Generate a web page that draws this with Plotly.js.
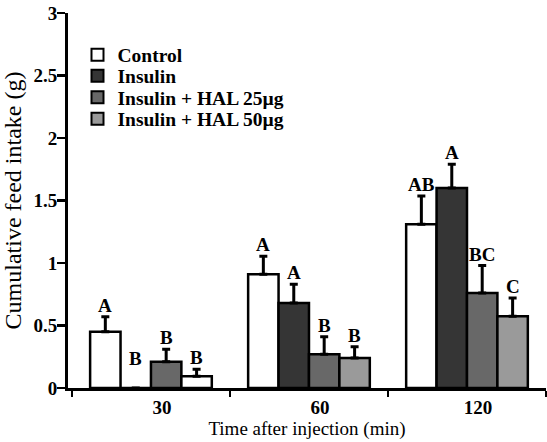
<!DOCTYPE html>
<html>
<head>
<meta charset="utf-8">
<script src="https://cdn.plot.ly/plotly-3.0.1.min.js"></script>
<style>html,body{margin:0;padding:0;background:#fff;}#chart{width:547px;height:442px;}</style>
</head>
<body>
<div id="chart"></div>
<script>
const categories = ['30', '60', '120'];
const seriesNames = ['Control', 'Insulin', 'Insulin + HAL 25µg', 'Insulin + HAL 50µg'];
const controlValues = [0.45, 0.91, 1.31];
const insulinValues = [0.0, 0.68, 1.60];
const hal25Values = [0.21, 0.27, 0.76];
const hal50Values = [0.095, 0.24, 0.575];
const controlErr = [0.12, 0.145, 0.225];
const insulinErr = [0.0, 0.15, 0.19];
const hal25Err = [0.10, 0.14, 0.22];
const hal50Err = [0.055, 0.09, 0.145];
const controlLetters = ['A', 'A', 'AB'];
const insulinLetters = ['B', 'A', 'A'];
const hal25Letters = ['B', 'B', 'BC'];
const hal50Letters = ['B', 'B', 'C'];

const values = [controlValues, insulinValues, hal25Values, hal50Values];
const errs = [controlErr, insulinErr, hal25Err, hal50Err];
const letters = [controlLetters, insulinLetters, hal25Letters, hal50Letters];
const colors = ['#ffffff', '#353535', '#686868', '#9a9a9a'];
// the reference draws the 30-min HAL 50µg bar unfilled
const pointColors = [
  ['#ffffff', '#ffffff', '#ffffff'],
  ['#353535', '#353535', '#353535'],
  ['#686868', '#686868', '#686868'],
  ['#ffffff', '#9a9a9a', '#9a9a9a']
];

const serif = 'Liberation Serif, Times New Roman, serif';
const legendIds = ['legend', 'legend2', 'legend3', 'legend4'];
const traces = seriesNames.map((name, i) => ({
  type: 'bar',
  name: name,
  x: categories,
  y: values[i],
  offsetgroup: 'g' + i,
  marker: { color: pointColors[i], line: { color: '#000', width: 2.5 } },
  error_y: {
    type: 'data', symmetric: false, array: errs[i],
    arrayminus: errs[i].map(() => 0),
    color: '#000', thickness: 3, width: 4,
    visible: true
  },
  showlegend: false
}));
// legend entries with the series' own colours (share the bar's offset group)
seriesNames.forEach((name, i) => {
  traces.push({
    type: 'bar', name: name, x: [categories[0]], y: [null],
    offsetgroup: 'g' + i, legend: legendIds[i],
    marker: { color: colors[i], line: { color: '#000', width: 2 } },
    showlegend: true, hoverinfo: 'skip'
  });
});

const plotLeft = 68, plotWidth = 478, plotTop = 13, plotHeight = 375;
const xRange = [-0.525, 2.5];
const bargap = 0.23;
const catPx = plotWidth / (xRange[1] - xRange[0]);
const barPx = catPx * (1 - bargap) / 4;

const annotations = [];
letters.forEach((arr, i) => {
  arr.forEach((t, j) => {
    const top = values[i][j] + errs[i][j];
    annotations.push({
      x: j, y: top, xref: 'x', yref: 'y',
      xshift: (i - 1.5) * barPx,
      yshift: top < 0.05 ? 17 : -1,
      yanchor: 'bottom', showarrow: false, text: t,
      font: { family: serif, size: 19, color: '#000', weight: 'bold' }
    });
  });
});

const legendRowPx = [55, 76, 97.5, 119];
const legendFont = { family: serif, size: 19.5, color: '#000', weight: 'bold' };

const layout = {
  width: 547, height: 442,
  margin: { l: plotLeft, r: 547 - plotLeft - plotWidth, t: plotTop, b: 442 - plotTop - plotHeight },
  paper_bgcolor: '#fff', plot_bgcolor: '#fff',
  barmode: 'group', bargap: bargap, bargroupgap: 0,
  font: { family: serif, color: '#000' },
  showlegend: true,
  xaxis: {
    type: 'category', categoryorder: 'array', categoryarray: categories,
    range: xRange, showline: true, linecolor: '#000', linewidth: 3,
    ticks: 'outside', tickson: 'boundaries', ticklen: 6, tickwidth: 2.5, tickcolor: '#000',
    showgrid: false, zeroline: false, ticklabelshift: 11,
    tickfont: { family: serif, size: 19, color: '#000', weight: 'bold' },
    title: { text: 'Time after injection (min)', standoff: 4,
      font: { family: serif, size: 19, color: '#000' } }
  },
  yaxis: {
    range: [0, 3], dtick: 0.5, tick0: 0, showline: true, linecolor: '#000', linewidth: 3,
    ticks: 'outside', ticklen: 8, tickwidth: 2.5, tickcolor: '#000',
    showgrid: false, zeroline: false, ticklabelstandoff: -4,
    tickfont: { family: serif, size: 19, color: '#000', weight: 'bold' },
    title: { text: 'Cumulative feed intake (g)', standoff: 8,
      font: { family: serif, size: 24, color: '#000' } }
  },
  annotations: annotations
};
legendIds.forEach((id, i) => {
  layout[id] = {
    x: (77.5 - plotLeft) / plotWidth,
    y: 1 - (legendRowPx[i] - plotTop) / plotHeight,
    xanchor: 'left', yanchor: 'middle',
    bgcolor: 'rgba(0,0,0,0)', borderwidth: 0,
    font: legendFont, itemwidth: 30
  };
});

Plotly.newPlot('chart', traces, layout, { displayModeBar: false, staticPlot: true });
</script>
</body>
</html>
